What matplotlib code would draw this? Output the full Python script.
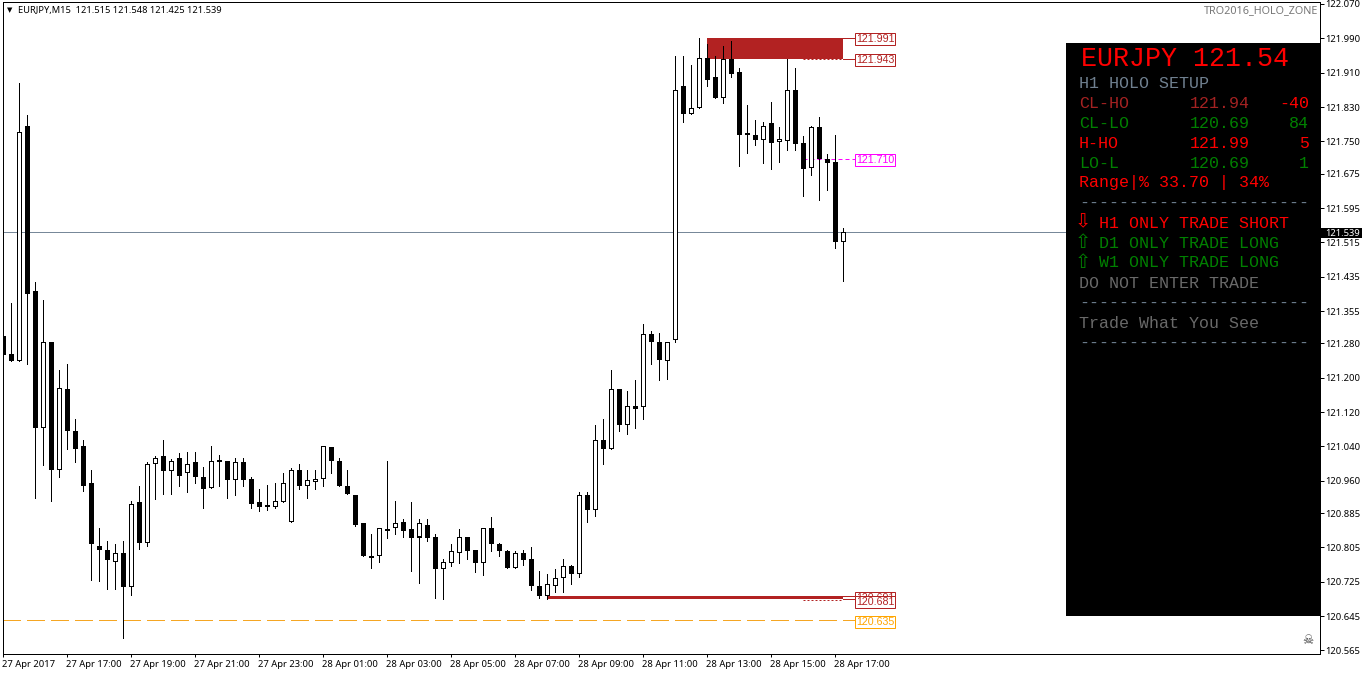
"""
plot.py - EURJPY M15 candlestick chart with HOLO zone panel
"""

import matplotlib
matplotlib.use('Agg')
import matplotlib.pyplot as plt
from matplotlib.patches import Rectangle
from matplotlib.transforms import ScaledTranslation

opens = [121.296, 121.256, 121.240, 121.785, 121.401, 121.082, 121.282, 120.984, 121.173, 121.077,
         121.040, 120.956, 120.809, 120.800, 120.772, 120.791, 120.712, 120.910, 120.816, 121.000,
         121.017, 120.982, 121.012, 120.979, 121.003, 120.970, 120.944, 121.005, 121.007, 120.961,
         121.003, 120.965, 120.910, 120.903, 120.900, 120.910, 120.865, 120.984, 120.949, 120.958,
         120.965, 121.038, 121.007, 120.949, 120.926, 120.861, 120.786, 120.786, 120.847, 120.849,
         120.865, 120.847, 120.828, 120.858, 120.830, 120.754, 120.768, 120.791, 120.828, 120.798,
         120.768, 120.849, 120.814, 120.796, 120.758, 120.791, 120.777, 120.716, 120.691, 120.714,
         120.733, 120.761, 120.742, 120.926, 120.891, 121.054, 121.035, 121.173, 121.091, 121.135,
         121.131, 121.301, 121.282, 121.238, 121.287, 121.878, 121.813, 121.827, 121.945, 121.899,
         121.850, 121.943, 121.911, 121.769, 121.766, 121.753, 121.792, 121.748, 121.750, 121.869,
         121.746, 121.689, 121.783, 121.708, 121.703, 121.515]
highs = [121.384, 121.373, 121.885, 121.811, 121.422, 121.382, 121.282, 121.219, 121.233, 121.103,
         121.054, 120.984, 120.849, 120.821, 120.812, 120.821, 120.914, 120.947, 121.003, 121.017,
         121.056, 121.010, 121.024, 121.026, 121.028, 120.991, 121.042, 121.019, 121.007, 121.014,
         121.014, 120.968, 120.942, 120.951, 120.954, 120.977, 120.989, 120.998, 120.984, 120.984,
         121.042, 121.038, 121.012, 120.984, 120.926, 120.861, 120.835, 120.849, 121.005, 120.914,
         120.870, 120.910, 120.870, 120.870, 120.837, 120.777, 120.812, 120.847, 120.830, 120.798,
         120.851, 120.875, 120.816, 120.798, 120.796, 120.798, 120.807, 120.749, 120.742, 120.754,
         120.779, 120.765, 120.935, 120.935, 121.089, 121.105, 121.217, 121.173, 121.168, 121.194,
         121.324, 121.308, 121.305, 121.282, 121.948, 121.950, 121.927, 121.992, 121.978, 121.948,
         121.973, 121.985, 121.920, 121.836, 121.799, 121.796, 121.843, 121.783, 121.941, 121.920,
         121.762, 121.785, 121.806, 121.720, 121.764, 121.548]
lows = [121.226, 121.240, 121.240, 121.233, 120.919, 120.996, 120.912, 120.968, 121.033, 121.003,
        120.937, 120.730, 120.726, 120.709, 120.707, 120.595, 120.693, 120.802, 120.809, 120.917,
        120.930, 120.930, 120.947, 120.935, 120.956, 120.896, 120.944, 120.947, 120.921, 120.926,
        120.949, 120.896, 120.889, 120.893, 120.896, 120.910, 120.865, 120.942, 120.921, 120.940,
        120.947, 120.979, 120.947, 120.930, 120.854, 120.784, 120.758, 120.772, 120.826, 120.835,
        120.830, 120.751, 120.723, 120.819, 120.688, 120.684, 120.761, 120.768, 120.779, 120.747,
        120.740, 120.796, 120.784, 120.756, 120.756, 120.765, 120.705, 120.686, 120.684, 120.700,
        120.702, 120.719, 120.737, 120.865, 120.877, 120.998, 121.035, 121.077, 121.070, 121.082,
        121.105, 121.231, 121.194, 121.198, 121.282, 121.796, 121.813, 121.827, 121.878, 121.852,
        121.840, 121.901, 121.694, 121.724, 121.741, 121.699, 121.685, 121.703, 121.731, 121.729,
        121.624, 121.673, 121.613, 121.638, 121.501, 121.425]
closes = [121.254, 121.240, 121.773, 121.396, 121.082, 121.284, 120.984, 121.175, 121.075, 121.035,
          120.947, 120.814, 120.798, 120.775, 120.791, 120.712, 120.907, 120.816, 121.000, 121.012,
          120.982, 121.005, 120.972, 121.000, 120.968, 120.942, 121.007, 121.003, 120.961, 121.003,
          120.963, 120.907, 120.898, 120.898, 120.912, 120.956, 120.984, 120.949, 120.961, 120.965,
          121.040, 121.007, 120.947, 120.930, 120.856, 120.784, 120.781, 120.849, 120.842, 120.861,
          120.844, 120.826, 120.861, 120.828, 120.754, 120.772, 120.796, 120.830, 120.796, 120.768,
          120.851, 120.812, 120.796, 120.758, 120.793, 120.775, 120.714, 120.691, 120.719, 120.733,
          120.761, 120.742, 120.928, 120.893, 121.054, 121.033, 121.173, 121.091, 121.135, 121.126,
          121.301, 121.282, 121.242, 121.282, 121.869, 121.813, 121.827, 121.945, 121.894, 121.852,
          121.943, 121.908, 121.764, 121.764, 121.753, 121.787, 121.746, 121.755, 121.869, 121.743,
          121.687, 121.783, 121.708, 121.701, 121.517, 121.539]

price_ticks = [122.070, 121.990, 121.910, 121.830, 121.750, 121.675, 121.595, 121.515, 121.435, 121.355,
               121.280, 121.200, 121.120, 121.040, 120.960, 120.885, 120.805, 120.725, 120.645, 120.565]
time_ticks = [0, 8, 16, 24, 32, 40, 48, 56, 64, 72, 80, 88, 96, 104]
time_labels = ['27 Apr 2017', '27 Apr 17:00', '27 Apr 19:00', '27 Apr 21:00', '27 Apr 23:00',
               '28 Apr 01:00', '28 Apr 03:00', '28 Apr 05:00', '28 Apr 07:00', '28 Apr 09:00',
               '28 Apr 11:00', '28 Apr 13:00', '28 Apr 15:00', '28 Apr 17:00']

bid = 121.539
zone_high = (121.991, 121.943)
zone_low = (120.692, 120.684)
mid_level = 121.710
low_level = 120.635
tags = [(121.991, '121.991', 'firebrick'), (121.943, '121.943', 'firebrick'),
        (121.710, '121.710', 'magenta'), (120.635, '120.635', 'orange'),
        (120.691, '120.691', 'firebrick'), (120.681, '120.681', 'firebrick')]

# panel rows: pixel x, pixel y, text, colour
RED = '#ff0000'
DARK_RED = '#a52222'
GREEN = '#008000'
SLATE = '#708090'
GREY = '#696969'
panel_rows = [
    (1079, 83, 'H1 HOLO SETUP', SLATE),
    (1079, 103, 'CL-HO', DARK_RED), (1190, 103, '121.94', DARK_RED),
    (1079, 123, 'CL-LO', GREEN), (1190, 123, '120.69', GREEN),
    (1079, 143, 'H-HO', RED), (1190, 143, '121.99', RED),
    (1079, 163, 'LO-L', GREEN), (1190, 163, '120.69', GREEN),
    (1079, 183, 'Range|% 33.70 | 34%', RED),
    (1079, 203, '-----------------------', SLATE),
    (1099, 223, 'H1 ONLY TRADE SHORT', RED),
    (1099, 243, 'D1 ONLY TRADE LONG', GREEN),
    (1099, 263, 'W1 ONLY TRADE LONG', GREEN),
    (1079, 283, 'DO NOT ENTER TRADE', GREY),
    (1079, 303, '-----------------------', SLATE),
    (1079, 323, 'Trade What You See', GREY),
    (1079, 343, '-----------------------', SLATE),
]
panel_pips = [(103, '-40', RED), (123, '84', GREEN), (143, '5', RED), (163, '1', GREEN)]
panel_arrows = [(222, '\u21e9', RED), (243, '\u21e7', GREEN), (263, '\u21e7', GREEN)]

W, H = 1362, 675
SANS = 'Noto Sans'
MONO = 'Liberation Mono'
PX = 0.72  # one pixel in points at dpi 100

fig = plt.figure(figsize=(W / 100, H / 100), dpi=100, facecolor='white')
left, right, top, bottom = 2.5, 1319.5, 1.5, 654.0
ax = fig.add_axes([left / W, 1 - bottom / H, (right - left) / W, (bottom - top) / H])
ax.set_xlim((left - 3.0) / 8, (right - 3.0) / 8)
price_per_px = 0.002328
ax.set_ylim(122.0793 - bottom * price_per_px, 122.0793 - top * price_per_px)


def px_x(x):
    return (x - 3.0) / 8


def fig_text(x, y, text, **kwargs):
    fig.text(x / W, 1 - y / H, text, va='center', **kwargs)


ax.axhline(bid, color='#778899', lw=PX, zorder=1, snap=True)
ax.plot([0, px_x(855)], [low_level, low_level], color='#f5a623', lw=PX,
        dashes=(18, 6), zorder=1, snap=True, antialiased=False)

# zones
ax.add_patch(Rectangle((88, zone_high[1]), 17, zone_high[0] - zone_high[1],
                       facecolor='firebrick', edgecolor='none', zorder=2))
ax.add_patch(Rectangle((68, zone_low[1]), 37, zone_low[0] - zone_low[1],
                       facecolor='firebrick', edgecolor='none', zorder=2, antialiased=False))
for level in (zone_high[1], zone_low[1]):
    ax.plot([px_x(803), 105], [level - 0.001, level - 0.001], color='firebrick', lw=PX,
            dashes=(2, 2), zorder=2, snap=True)
for level in (*zone_high, 120.691, 120.685):
    ax.plot([105, px_x(855)], [level, level], color='firebrick', lw=PX, zorder=2, snap=True)
ax.plot([px_x(803), px_x(855)], [mid_level, mid_level], color='magenta', lw=PX,
        dashes=(4, 3), zorder=2, snap=True)

# candles
for i, (o, h, l, c) in enumerate(zip(opens, highs, lows, closes)):
    ax.vlines(i, l, h, color='black', lw=PX, zorder=3, antialiased=False)
    body = max(abs(c - o), 2 * price_per_px)
    base = min(o, c)
    ax.bar(i, body, bottom=base, width=5 / 8, color='black', lw=0, zorder=4, antialiased=False)
    if c >= o and body > 2.5 * price_per_px:
        ax.bar(i, body - 2 * price_per_px, bottom=base + price_per_px, width=3 / 8, color='white',
               lw=0, zorder=5, antialiased=False)

tag_shift = ScaledTranslation(0, -1.25 / 100, fig.dpi_scale_trans)
for price, label, color in tags:
    ax.text(px_x(875), price, label, color=color, fontsize=7.7, family='Liberation Sans',
            va='center', ha='center', zorder=6, clip_on=False, transform=ax.transData + tag_shift,
            bbox={'boxstyle': 'square,pad=0.1', 'facecolor': 'white', 'edgecolor': color, 'linewidth': PX})

# axes
for spine in ax.spines.values():
    spine.set_linewidth(PX)
    spine.set_zorder(10)
ax.yaxis.tick_right()
ax.set_yticks(price_ticks)
ax.set_yticklabels([f'{p:.3f}' for p in price_ticks])
ax.set_xticks(time_ticks)
ax.set_xticklabels(time_labels, ha='left')
ax.tick_params(axis='y', length=2.8, width=PX, pad=1.5, labelsize=6.8)
ax.tick_params(axis='x', length=2.5, width=PX, pad=1.8, labelsize=6.8)
shift = ScaledTranslation(-1 / 100, 0, fig.dpi_scale_trans)
for label in ax.get_xticklabels():
    label.set_family(SANS)
    label.set_transform(label.get_transform() + shift)
for label in ax.get_yticklabels():
    label.set_family(SANS)

# bid tag on the price scale
fig.patches.append(Rectangle((1321 / W, 1 - 238 / H), 41 / W, 10 / H, transform=fig.transFigure,
                             facecolor='black', edgecolor='none', zorder=5))
fig_text(1325, 233, f'{bid:.3f}', color='white', fontsize=6.8, family=SANS, zorder=6)

# header texts
fig_text(10, 10, '\u25bc', color='black', fontsize=5, family='DejaVu Sans', ha='center')
fig_text(18, 10, 'EURJPY,M15  121.515 121.548 121.425 121.539', color='black', fontsize=6.7, family=SANS)
fig_text(1318, 11, 'TRO2016_HOLO_ZONE', color='#777777', fontsize=7.8, family=SANS, ha='right')
fig_text(1308, 640, '\u2620', color='#404040', fontsize=9, family='DejaVu Sans', ha='center')

# info panel
fig.patches.append(Rectangle((1066 / W, 1 - 616 / H), 253.5 / W, 573 / H, transform=fig.transFigure,
                             facecolor='black', edgecolor='none', zorder=3))
fig_text(1081, 59, 'EURJPY 121.54', color=RED, fontsize=19.2, family=MONO, zorder=6)
for x, y, text, color in panel_rows:
    fig_text(x, y, text, color=color, fontsize=12, family=MONO, zorder=6)
for y, text, color in panel_pips:
    fig_text(1309, y, text, color=color, fontsize=12, family=MONO, ha='right', zorder=6)
for y, text, color in panel_arrows:
    fig_text(1082.5, y, text, color=color, fontsize=14, family='DejaVu Sans', ha='center', zorder=6)

plt.savefig('out.png', dpi=100)
plt.close(fig)
